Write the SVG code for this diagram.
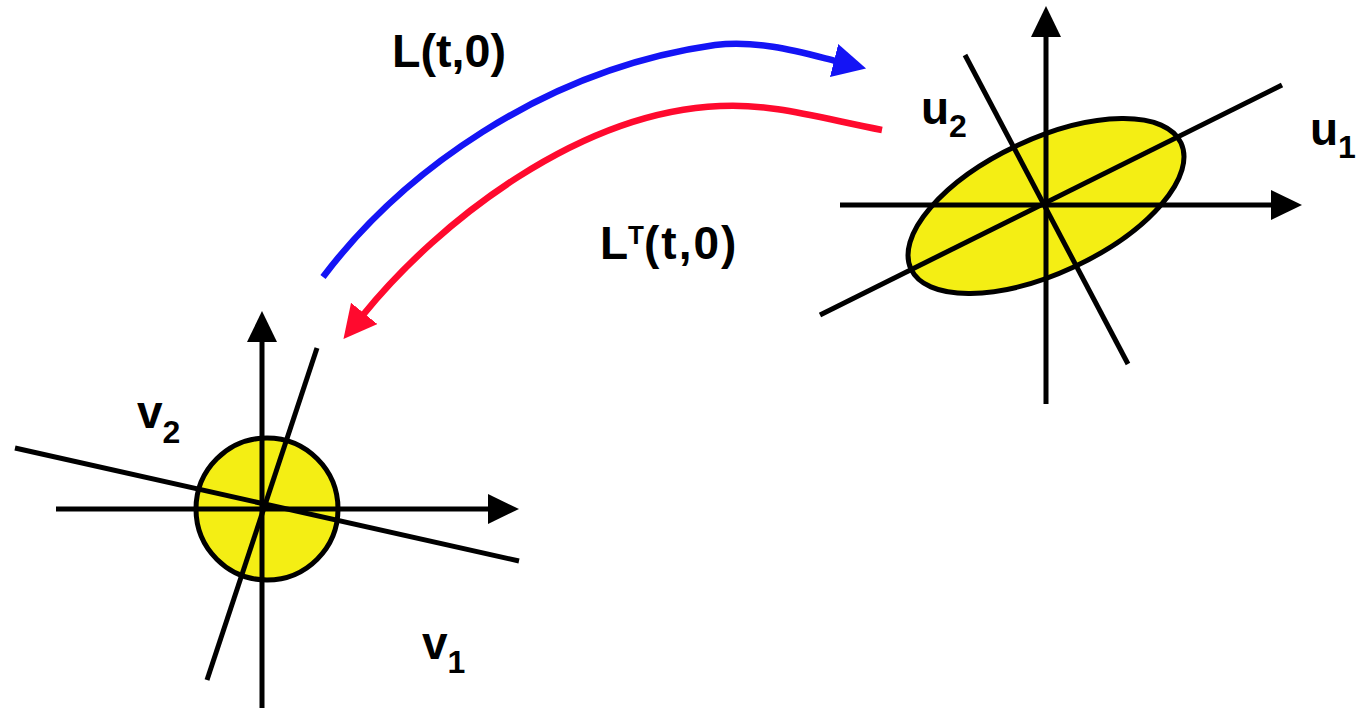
<svg xmlns="http://www.w3.org/2000/svg" width="1356" height="708" viewBox="0 0 1356 708">
  <style>
    .ax { stroke: #000; stroke-width: 5; fill: none; }
    .ln { stroke: #000; stroke-width: 5; fill: none; }
    .blob { fill: #F4EE14; stroke: #000; stroke-width: 5; }
    .lbl { font-family: "Liberation Sans", Arial, sans-serif; font-weight: bold; font-size: 46px; fill: #000; }
    .sub { font-size: 32px; }
    .map { font-family: "Liberation Sans", Arial, sans-serif; font-weight: bold; font-size: 46px; fill: #000; }
    .blue { stroke: #1414F5; stroke-width: 6.5; fill: none; }
    .red { stroke: #FF0A2E; stroke-width: 6.5; fill: none; }
  </style>
  <defs>
    <marker id="ah-black" markerUnits="userSpaceOnUse" viewBox="0 0 31 30" refX="1" refY="15" markerWidth="31" markerHeight="30" orient="auto">
      <path d="M0,0 L31,15 L0,30 z" fill="#000"/>
    </marker>
    <marker id="ah-blue" markerUnits="userSpaceOnUse" viewBox="0 0 33 34" refX="2" refY="17" markerWidth="33" markerHeight="34" orient="auto">
      <path d="M0,0 L33,17 L0,34 z" fill="#1414F5"/>
    </marker>
    <marker id="ah-red" markerUnits="userSpaceOnUse" viewBox="0 0 33 34" refX="2" refY="17" markerWidth="33" markerHeight="34" orient="auto">
      <path d="M0,0 L33,17 L0,34 z" fill="#FF0A2E"/>
    </marker>
  </defs>

  <g id="left-frame">
    <circle class="blob" cx="267" cy="509" r="71"/>
    <line class="ax" x1="262" y1="708" x2="262" y2="341" marker-end="url(#ah-black)"/>
    <line class="ax" x1="56" y1="509" x2="489" y2="509" marker-end="url(#ah-black)"/>
    <line class="ln" x1="317" y1="348" x2="207" y2="680"/>
    <line class="ln" x1="15" y1="448" x2="519" y2="561"/>
    <text class="lbl" x="137" y="428">v<tspan class="sub" dy="15">2</tspan></text>
    <text class="lbl" x="422" y="659">v<tspan class="sub" dy="14">1</tspan></text>
  </g>

  <g id="right-frame">
    <ellipse class="blob" cx="0" cy="0" rx="149" ry="67" transform="translate(1046 206) rotate(-25)"/>
    <line class="ax" x1="1046" y1="404" x2="1046" y2="36" marker-end="url(#ah-black)"/>
    <line class="ax" x1="840" y1="205" x2="1272" y2="205" marker-end="url(#ah-black)"/>
    <line class="ln" x1="820" y1="315" x2="1282" y2="85"/>
    <line class="ln" x1="965" y1="55" x2="1128" y2="364"/>
    <text class="lbl" x="921" y="124">u<tspan class="sub" dy="13">2</tspan></text>
    <text class="lbl" x="1310" y="145">u<tspan class="sub" dy="13">1</tspan></text>
  </g>

  <g id="connectors">
    <path class="blue" d="M323,277 C400,175 540,70 715,45 C760,40 800,52 836,61" marker-end="url(#ah-blue)"/>
    <path class="red" d="M882,130 C820,118 770,103 720,106 C580,112 440,220 363,315" marker-end="url(#ah-red)"/>
    <text class="map" x="392" y="67" textLength="114" lengthAdjust="spacingAndGlyphs">L(t,0)</text>
    <text class="map" x="600" y="259">L<tspan font-size="26" dy="-15">T</tspan><tspan dy="15" letter-spacing="2">(t,0)</tspan></text>
  </g>
</svg>
